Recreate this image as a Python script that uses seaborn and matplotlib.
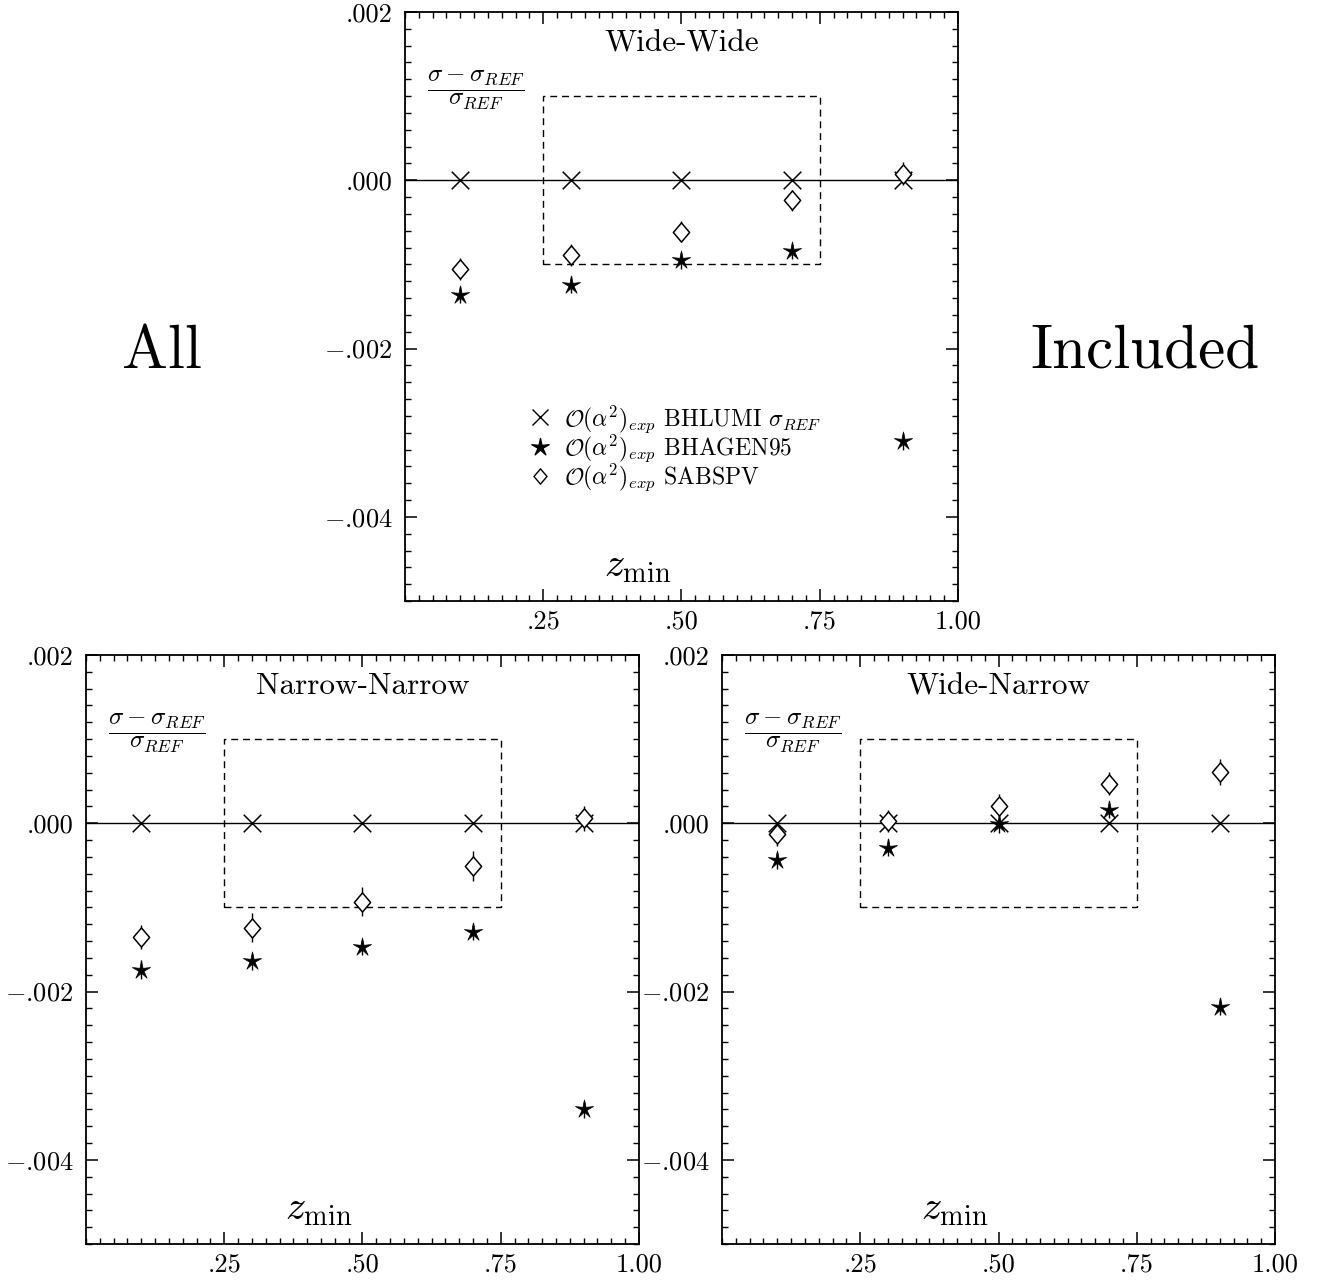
import numpy as np
import pandas as pd
import matplotlib
matplotlib.use("Agg")
import matplotlib.pyplot as plt
from matplotlib.path import Path
from matplotlib.patches import Rectangle
from matplotlib.lines import Line2D
import seaborn as sns

# ---------------- data ----------------
z_min = [0.1, 0.3, 0.5, 0.7, 0.9]

ww_bhlumi = [0.0, 0.0, 0.0, 0.0, 0.0]
ww_bhagen = [-0.00136, -0.00124, -0.00095, -0.00084, -0.00310]
ww_bhagen_err = [0.00010, 0.00010, 0.00010, 0.00010, 0.00010]
ww_sabspv = [-0.00105, -0.00089, -0.00061, -0.00024, 0.00008]
ww_sabspv_err = [0.00013, 0.00013, 0.00012, 0.00012, 0.00014]

nn_bhlumi = [0.0, 0.0, 0.0, 0.0, 0.0]
nn_bhagen = [-0.00174, -0.00164, -0.00147, -0.00129, -0.00340]
nn_bhagen_err = [0.00011, 0.00010, 0.00010, 0.00010, 0.00010]
nn_sabspv = [-0.00135, -0.00124, -0.00093, -0.00051, 0.00006]
nn_sabspv_err = [0.000145, 0.00017, 0.00017, 0.00018, 0.00015]

wn_bhlumi = [0.0, 0.0, 0.0, 0.0, 0.0]
wn_bhagen = [-0.00044, -0.00029, -0.00001, 0.00016, -0.00218]
wn_bhagen_err = [0.00010, 0.00010, 0.00010, 0.00010, 0.00010]
wn_sabspv = [-0.00013, 0.00003, 0.00021, 0.00047, 0.00061]
wn_sabspv_err = [0.00014, 0.00013, 0.00014, 0.00014, 0.00015]

x_ticks = [0.25, 0.50, 0.75, 1.00]
x_tick_labels = [".25", ".50", ".75", "1.00"]
y_ticks = [-0.004, -0.002, 0.000, 0.002]
y_tick_labels = [r"$-$.004", r"$-$.002", ".000", ".002"]

panel_titles = ["Wide-Wide", "Narrow-Narrow", "Wide-Narrow"]
series_labels = [r"$\mathcal{O}(\alpha^2)_{exp}$ BHLUMI $\sigma_{REF}$",
                 r"$\mathcal{O}(\alpha^2)_{exp}$ BHAGEN95",
                 r"$\mathcal{O}(\alpha^2)_{exp}$ SABSPV"]

# ---------------- style ----------------
sns.set_style("ticks")
plt.rcParams["font.family"] = ["cmr10", "DejaVu Serif"]
plt.rcParams["mathtext.fontset"] = "cm"
plt.rcParams["axes.unicode_minus"] = False
plt.rcParams["axes.linewidth"] = 1.3
plt.rcParams["text.color"] = "black"
plt.rcParams["axes.labelcolor"] = "black"
plt.rcParams["xtick.color"] = "black"
plt.rcParams["ytick.color"] = "black"

# marker shapes
ang_out = np.deg2rad(90 + 72 * np.arange(5))
ang_in = ang_out + np.deg2rad(36)
star_v = []
for ao, ai in zip(ang_out, ang_in):
    star_v.append((np.cos(ao), np.sin(ao)))
    star_v.append((0.28 * np.cos(ai), 0.28 * np.sin(ai)))
star_v.append(star_v[0])
star_marker = Path(star_v, closed=True)
diamond_marker = Path([(0, 1), (0.85, 0), (0, -1), (-0.85, 0), (0, 1)], closed=True)

fig = plt.figure(figsize=(13.27, 12.85), dpi=100)
ax_top = fig.add_axes([0.3052, 0.5323, 0.4167, 0.4584])
ax_bl = fig.add_axes([0.0648, 0.0319, 0.4167, 0.4584])
ax_br = fig.add_axes([0.5441, 0.0319, 0.4167, 0.4584])


def draw(ax, bhlumi, bhagen, bhagen_err, sabspv, sabspv_err, title, legend=False):
    ax.axhline(0, color="black", lw=1.0, zorder=1)
    ax.add_patch(Rectangle((0.25, -0.001), 0.5, 0.002, fill=False,
                           ls=(0, (5, 3.5)), lw=1.0, ec="black", zorder=1))
    ax.errorbar(z_min, sabspv, yerr=sabspv_err, fmt="none", ecolor="black",
                elinewidth=1.0, capsize=0, zorder=2)
    ax.errorbar(z_min, bhagen, yerr=bhagen_err, fmt="none", ecolor="black",
                elinewidth=1.0, capsize=0, zorder=2)
    df1 = pd.DataFrame({"z": z_min, "v": bhlumi})
    df2 = pd.DataFrame({"z": z_min, "v": bhagen})
    df3 = pd.DataFrame({"z": z_min, "v": sabspv})
    sns.scatterplot(data=df1, x="z", y="v", marker="x", s=160, color="black",
                    linewidth=1.1, ax=ax, zorder=3, legend=False)
    sns.scatterplot(data=df2, x="z", y="v", marker=star_marker, s=190,
                    color="black", edgecolor="black", linewidth=0.5, ax=ax,
                    zorder=3, legend=False)
    sns.scatterplot(data=df3, x="z", y="v", marker=diamond_marker, s=190,
                    facecolor="white", edgecolor="black", linewidth=1.1,
                    ax=ax, zorder=4, legend=False)

    ax.set_xlim(0, 1)
    ax.set_ylim(-0.005, 0.002)
    ax.set_xticks(x_ticks)
    ax.set_xticklabels(x_tick_labels)
    ax.set_yticks(y_ticks)
    ax.set_yticklabels(y_tick_labels)
    ax.set_xticks(np.arange(0, 1.0001, 0.025), minor=True)
    ax.set_yticks(np.arange(-0.005, 0.00201, 0.0002), minor=True)
    ax.tick_params(which="both", direction="in", top=True, right=True,
                   labelsize=19, color="black", labelcolor="black")
    ax.tick_params(which="major", length=8.6, width=1.1)
    ax.tick_params(which="minor", length=4.3, width=1.0)
    ax.tick_params(axis="x", which="major", pad=6)
    ax.tick_params(axis="y", which="major", pad=9)
    ax.set_xlabel("")
    ax.set_ylabel("")
    for sp in ax.spines.values():
        sp.set_visible(True)
        sp.set_color("black")

    ax.text(0.5, 0.00163, title, ha="center", va="center", fontsize=22.5,
            color="black")
    ax.text(0.128, 0.00108, r"$\dfrac{\sigma - \sigma_{REF}}{\sigma_{REF}}$",
            ha="center", va="center", fontsize=18, color="black")
    ax.text(0.42, -0.00460, r"$z_{\mathrm{min}}$", ha="center", va="center",
            fontsize=29, color="black")

    if legend:
        handles = [
            Line2D([], [], marker="x", ls="none", color="black", ms=11, mew=1.0),
            Line2D([], [], marker=star_marker, ls="none", color="black", ms=13),
            Line2D([], [], marker=diamond_marker, ls="none", mfc="white",
                   mec="black", ms=11, mew=1.0),
        ]
        leg = ax.legend(handles, series_labels, loc="upper left",
                        bbox_to_anchor=(0.205, 0.352), frameon=False, fontsize=17,
                        handlelength=1.0, handletextpad=0.55, labelspacing=-0.1,
                        borderaxespad=0)
        for t in leg.get_texts():
            t.set_color("black")


draw(ax_top, ww_bhlumi, ww_bhagen, ww_bhagen_err, ww_sabspv, ww_sabspv_err,
     panel_titles[0], legend=True)
draw(ax_bl, nn_bhlumi, nn_bhagen, nn_bhagen_err, nn_sabspv, nn_sabspv_err,
     panel_titles[1])
draw(ax_br, wn_bhlumi, wn_bhagen, wn_bhagen_err, wn_sabspv, wn_sabspv_err,
     panel_titles[2])

fig.text(0.122, 0.7262, "All", ha="center", va="center", fontsize=44,
         color="black")
fig.text(0.8628, 0.7262, "Included", ha="center", va="center", fontsize=44,
         color="black")

fig.savefig("out.png", dpi=100)
